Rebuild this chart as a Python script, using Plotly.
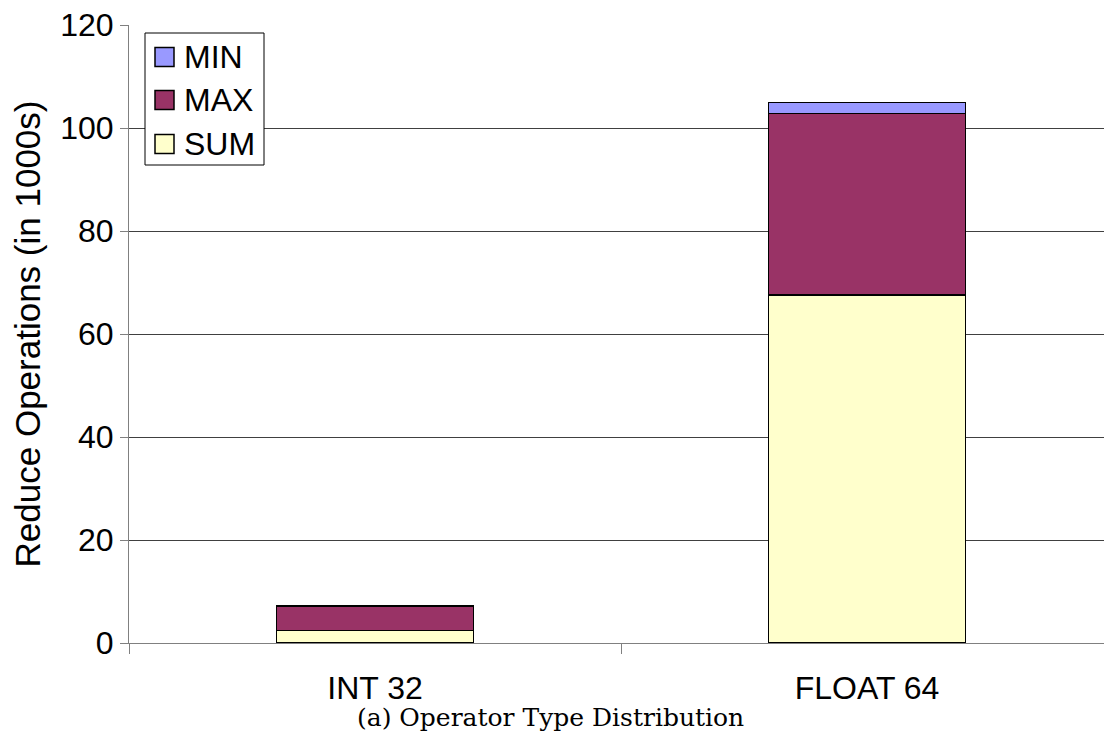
import plotly.graph_objects as go

categories = ["INT 32", "FLOAT 64"]
sum_ops = [2.4, 67.6]
max_ops = [4.8, 35.2]
min_ops = [0.1, 2.2]

series = [
    ("SUM", sum_ops, "#FFFFCC"),
    ("MAX", max_ops, "#993366"),
    ("MIN", min_ops, "#9999FF"),
]

font_main = "Liberation Sans, Arial, sans-serif"

fig = go.Figure()
for name, vals, color in series:
    fig.add_trace(go.Bar(
        x=categories, y=vals, name=name,
        marker=dict(color=color, line=dict(color="black", width=1.5)),
        width=0.4, showlegend=False,
    ))

# plot-area geometry in pixels, used to place the hand-built legend
L, T, W, H = 129, 25, 975, 618


def px(x):
    return (x - L) / W


def py(y):
    return (T + H - y) / H


shapes = [dict(
    type="rect", xref="paper", yref="paper",
    x0=px(145), x1=px(264), y0=py(165), y1=py(33),
    line=dict(color="black", width=1), fillcolor="white", layer="above",
)]
annotations = []
# legend rows, top to bottom: MIN, MAX, SUM
row_centers = [57, 100, 144]
for (name, _, color), yc in zip(reversed(series), row_centers):
    shapes.append(dict(
        type="rect", xref="paper", yref="paper",
        x0=px(155), x1=px(174), y0=py(yc + 9.5), y1=py(yc - 9.5),
        line=dict(color="black", width=1.5), fillcolor=color, layer="above",
    ))
    annotations.append(dict(
        text=name, xref="paper", yref="paper", x=px(182), y=py(yc),
        xanchor="left", yanchor="middle", showarrow=False,
        font=dict(family=font_main, size=32, color="black"),
    ))

annotations.append(dict(
    text="(a) Operator Type Distribution",
    xref="paper", yref="paper", x=px(550), y=py(717),
    xanchor="center", yanchor="middle", showarrow=False,
    font=dict(family="DejaVu Serif, Liberation Serif, serif", size=25, color="black"),
))

fig.update_layout(
    barmode="stack",
    width=1104, height=734,
    margin=dict(l=L, r=0, t=T, b=734 - T - H),
    paper_bgcolor="white", plot_bgcolor="white",
    font=dict(family=font_main, color="black", size=32),
    showlegend=False,
    xaxis=dict(
        type="category", tickson="boundaries",
        range=[-0.5, 1.4817],
        ticks="outside", ticklen=10, tickcolor="#808080",
        showline=True, linecolor="#808080", linewidth=1,
        showgrid=False, tickfont=dict(size=32),
        ticklabelstandoff=17,
    ),
    yaxis=dict(
        range=[0, 120], dtick=20,
        ticks="outside", ticklen=8, tickcolor="#808080",
        showline=True, linecolor="#808080", linewidth=1,
        showgrid=True, gridcolor="#404040", gridwidth=1,
        zeroline=False,
        tickfont=dict(size=32),
        title=dict(text="Reduce Operations (in 1000s)", font=dict(size=35), standoff=8),
    ),
    shapes=shapes,
    annotations=annotations,
)

fig.write_html("out.html")
